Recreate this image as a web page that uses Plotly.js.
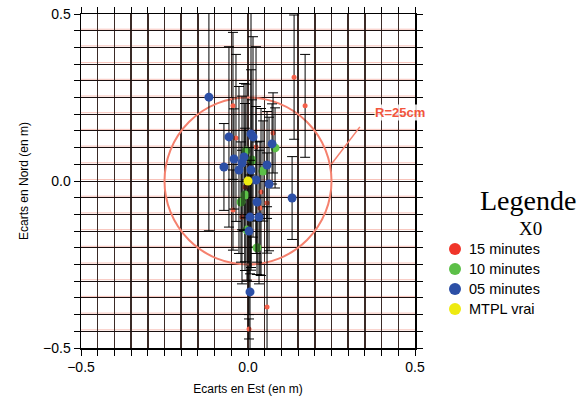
<!DOCTYPE html>
<html><head><meta charset="utf-8">
<script src="https://cdn.plot.ly/plotly-3.0.1.min.js"></script>
<style>body{margin:0;background:#fff}#c{width:581px;height:407px}</style>
</head><body><div id="c"></div>
<script>
// 05 minutes (blue)
const blueX = [-0.117,-0.057,0.009,0.015,0.072,-0.042,-0.072,-0.012,-0.018,-0.027,0.009,0.057,0.024,0.063,0.132,0.006,0.033,0.003,0.006,0.027];
const blueY = [0.251,0.132,0.141,0.132,0.111,0.066,0.042,0.072,0.054,0.033,0.033,0.048,0.003,-0.009,-0.051,-0.108,-0.108,-0.150,-0.332,-0.063];
const blueErr = [0.40,0.27,0.40,0.30,0.12,0.15,0.13,0.22,0.20,0.25,0.30,0.16,0.22,0.20,0.124,0.17,0.20,0.25,0.35,0.18];
// 10 minutes (green)
const greenX = [0.081,0.045,0.027,-0.021,-0.006,-0.003,-0.009,0.012];
const greenY = [0.099,0.030,-0.200,-0.063,0.090,-0.147,-0.042,0.063];
const greenErr = [0.12,0.15,0.08,0.18,0.20,0.15,0.20,0.18];
// 15 minutes (red)
const redX = [0.138,0.171,-0.045,-0.036,0.075,-0.045,-0.009,-0.018,0.036,0.057,0.039,0.057,0.003,0.024];
const redY = [0.311,0.225,0.225,0.129,0.144,-0.087,-0.018,-0.108,-0.081,-0.066,-0.033,-0.377,-0.443,0.102];
const redErr = [0.186,0.154,0.22,0.25,0.12,0.12,0.25,0.20,0.20,0.15,0.25,0.30,0.03,0.30];
// MTPL vrai (yellow)
const trueX = [0.0];
const trueY = [0.0];

const gridVals = [];
for (let i = -10; i <= 10; i++) gridVals.push(+(i*0.05).toFixed(2));
const tickText = gridVals.map(v => v === -0.5 ? '\u22120.5' : (v === 0 ? '0.0' : (v === 0.5 ? '0.5' : '')));

const legendNames = ['15 minutes','10 minutes','05 minutes','MTPL vrai'];
const legendColors = ['#f0352a','#5cbf48','#2c4fa6','#eeea10'];

const eb = (arr) => ({type:'data', array:arr, visible:true, color:'#000', thickness:1, width:5});

const traces = [
  {x:redX, y:redY, mode:'markers', type:'scatter', error_y:eb(redErr), marker:{color:'#f4604a', size:5}, showlegend:false},
  {x:greenX, y:greenY, mode:'markers', type:'scatter', error_y:eb(greenErr), marker:{color:legendColors[1], size:9}, showlegend:false},
  {x:blueX, y:blueY, mode:'markers', type:'scatter', error_y:eb(blueErr), marker:{color:legendColors[2], size:9}, showlegend:false},
  {x:trueX, y:trueY, mode:'markers', type:'scatter', marker:{color:legendColors[3], size:9}, showlegend:false}
];

const shapes = [];
// faint red companion lines to horizontal grid
gridVals.forEach(v => {
  if (Math.abs(v) < 0.5) shapes.push({type:'line', xref:'x', yref:'y', x0:-0.5, x1:0.5, y0:v+0.0045, y1:v+0.0045, line:{color:'rgba(240,120,100,0.45)', width:1}, layer:'below'});
});
shapes.push({type:'circle', xref:'x', yref:'y', x0:-0.25, x1:0.25, y0:-0.25, y1:0.25, line:{color:'#f5816e', width:2}, layer:'between'});
shapes.push({type:'line', xref:'x', yref:'y', x0:0.25, y0:0.051, x1:0.335, y1:0.162, line:{color:'#f5816e', width:1.5}, layer:'between'});

const annotations = [
  {x:0.455, y:0.204, xref:'x', yref:'y', xanchor:'center', text:'<b>R=25cm</b>', showarrow:false, bgcolor:'rgba(255,255,255,0.85)', borderpad:0, font:{family:'Liberation Sans, Arial', size:13, color:'#f2553c'}},
  {x:(528-81)/334, y:(348-200)/334, xref:'paper', yref:'paper', xanchor:'center', yanchor:'middle', text:'Legende', showarrow:false, font:{family:'Liberation Serif, Times New Roman', size:28, color:'#000'}},
  {x:(530-81)/334, y:(348-228)/334, xref:'paper', yref:'paper', xanchor:'center', yanchor:'middle', text:'X0', showarrow:false, font:{family:'Liberation Serif, Times New Roman', size:19, color:'#000'}}
];
legendNames.forEach((n, i) => {
  const cy = (348-(249+i*20))/334;
  const cx = (455-81)/334;
  const r = 6/334;
  shapes.push({type:'circle', xref:'paper', yref:'paper', x0:cx-r, x1:cx+r, y0:cy-r, y1:cy+r, fillcolor:legendColors[i], line:{width:0}});
  annotations.push({x:(467-81)/334, y:cy, xref:'paper', yref:'paper', xanchor:'left', yanchor:'middle', text:n, showarrow:false, font:{family:'Liberation Sans, Arial', size:14.5, color:'#000'}});
});

const axisCommon = {
  tickmode:'array', tickvals:gridVals, ticktext:tickText,
  range:[-0.5,0.5], showline:true, mirror:'ticks', linecolor:'#000', linewidth:1.5,
  ticks:'outside', ticklen:6, tickcolor:'#000', tickwidth:1,
  zeroline:false, tickfont:{family:'Liberation Sans, Arial', size:14, color:'#000'}
};

const layout = {
  width:581, height:407,
  margin:{l:81, r:166, t:14, b:59},
  paper_bgcolor:'#fff', plot_bgcolor:'#fff',
  showlegend:false,
  xaxis:Object.assign({}, axisCommon, {
    gridcolor:'#3a2a26', gridwidth:1.5,
    title:{text:'Ecarts en Est (en m)', font:{family:'Liberation Sans, Arial', size:12, color:'#000'}, standoff:10}
  }),
  yaxis:Object.assign({}, axisCommon, {
    gridcolor:'#1a1010', gridwidth:1,
    title:{text:'Ecarts en Nord (en m)', font:{family:'Liberation Sans, Arial', size:12, color:'#000'}, standoff:12}
  }),
  shapes:shapes,
  annotations:annotations
};

Plotly.newPlot('c', traces, layout, {staticPlot:true, displayModeBar:false});
</script>
</body></html>
